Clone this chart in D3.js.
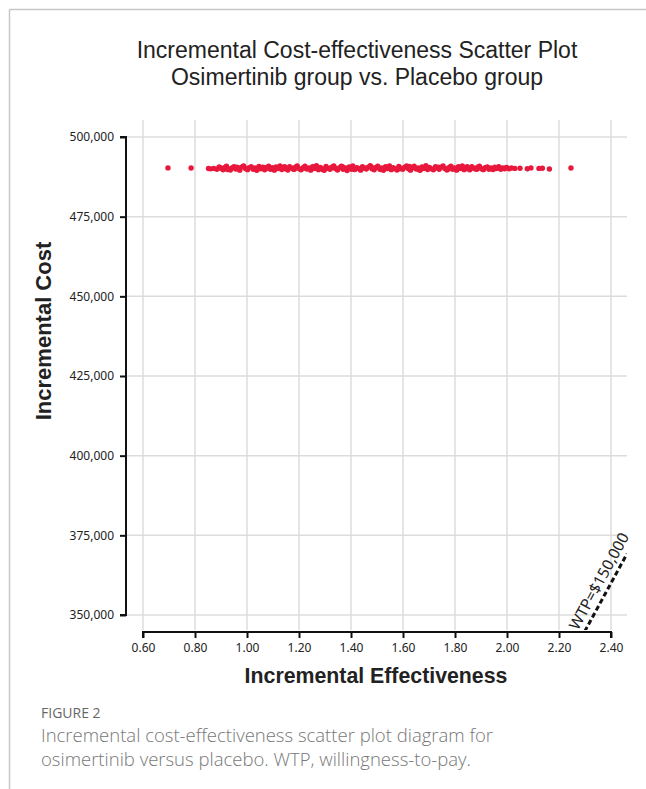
<!DOCTYPE html>
<html>
<head>
<meta charset="utf-8">
<script src="https://cdn.jsdelivr.net/npm/d3@7"></script>
<style>
  body { margin: 0; background: #fff; }
  svg { display: block; }
</style>
</head>
<body>
<svg id="chart" width="646" height="789"></svg>
<script>
// simulated (effectiveness, cost) pairs
const simEff = [0.696, 0.785, 0.852, 0.860,
  0.872, 0.884, 0.893, 0.901, 0.908, 0.915, 0.921, 0.929, 0.936, 0.944, 0.950, 0.957, 0.965, 0.972, 0.979, 0.987,
  0.994, 1.002, 1.009, 1.016, 1.024, 1.031, 1.038, 1.046, 1.053, 1.061, 1.068, 1.075, 1.083, 1.090, 1.097, 1.105,
  1.112, 1.120, 1.127, 1.134, 1.142, 1.149, 1.157, 1.164, 1.171, 1.179, 1.186, 1.193, 1.201, 1.208, 1.216, 1.223,
  1.230, 1.238, 1.245, 1.252, 1.260, 1.267, 1.275, 1.282, 1.289, 1.297, 1.304, 1.311, 1.319, 1.326, 1.334, 1.341,
  1.348, 1.356, 1.363, 1.370, 1.378, 1.385, 1.393, 1.400, 1.407, 1.415, 1.422, 1.429, 1.437, 1.444, 1.452, 1.459,
  1.466, 1.474, 1.481, 1.489, 1.496, 1.503, 1.511, 1.518, 1.525, 1.533, 1.540, 1.548, 1.555, 1.562, 1.570, 1.577,
  1.584, 1.592, 1.599, 1.607, 1.614, 1.621, 1.629, 1.636, 1.643, 1.651, 1.658, 1.666, 1.673, 1.680, 1.688, 1.695,
  1.702, 1.710, 1.717, 1.725, 1.732, 1.739, 1.747, 1.754, 1.761, 1.769, 1.776, 1.784, 1.791, 1.798, 1.806, 1.813,
  1.820, 1.828, 1.835, 1.843, 1.850, 1.857, 1.865, 1.872, 1.879, 1.887, 1.894, 1.902, 1.909, 1.916, 1.924, 1.931,
  1.938, 1.946, 1.953, 1.961, 1.968, 1.976, 1.983, 1.991, 1.999, 2.008, 2.017,
  2.030, 2.050, 2.078, 2.092, 2.123, 2.136, 2.163, 2.246,
  // second pass through the dense core
  0.897, 0.925, 0.961, 0.998, 1.035, 1.071, 1.108, 1.145, 1.182, 1.219, 1.256, 1.293, 1.330, 1.367, 1.404, 1.441,
  1.478, 1.515, 1.551, 1.588, 1.625, 1.662, 1.699, 1.736, 1.773, 1.810, 1.847, 1.884, 1.921, 1.957, 1.994];
const simCost = [490300, 490250, 490100, 490000,
  490150, 489900, 490600, 490200, 489700, 490450, 490800, 490050, 489650, 490350, 490700, 489950, 490250, 489600, 490550, 490900,
  490100, 489750, 490400, 490650, 489850, 490300, 489550, 490750, 490000, 490500, 489700, 490200, 490850, 489900, 490350, 489600,
  490600, 490100, 490950, 489800, 490450, 490000, 489650, 490700, 490250, 489850, 490550, 490900, 490050, 489700, 490400, 490800,
  489950, 490300, 489600, 490650, 490150, 491000, 489750, 490450, 490050, 489550, 490750, 490200, 489900, 490500, 490950, 490100,
  489650, 490350, 490800, 489850, 490250, 489500, 490600, 490000, 490900, 489800, 490400, 490150, 489600, 490700, 490300, 489950,
  490550, 491000, 490050, 489700, 490450, 490850, 489900, 490250, 489550, 490650, 490100, 490950, 489750, 490400, 490000, 489650,
  490750, 490200, 489850, 490500, 490900, 490050, 489600, 490350, 490800, 489950, 490300, 489550, 490600, 490150, 491000, 489800,
  490450, 490000, 489700, 490700, 490250, 489900, 490550, 490950, 490100, 489650, 490400, 490850, 489850, 490300, 489600, 490650,
  490150, 490900, 489750, 490450, 490050, 489700, 490700, 490200, 489950, 490500, 490800, 490050, 489750, 490350, 490600, 489900,
  490250, 489800, 490500, 490150, 490700, 489900, 490300, 490050, 490450, 490000, 490250,
  490150, 490200, 490050, 490300, 490150, 490200, 489950, 490250,
  490300, 489800, 490550, 490150, 489700, 490400, 490000, 490650, 489850, 490250, 490500, 489750, 490350, 490700, 489900, 490150,
  490600, 489800, 490400, 490050, 490750, 489700, 490300, 490550, 489900, 490200, 490650, 489850, 490400, 490100, 490300];

const xTicks = [0.6, 0.8, 1.0, 1.2, 1.4, 1.6, 1.8, 2.0, 2.2, 2.4];
const yTicks = [350000, 375000, 400000, 425000, 450000, 475000, 500000];
const wtp = 150000;

const titleLines = ["Incremental Cost-effectiveness Scatter Plot", "Osimertinib group vs. Placebo group"];
const captionLines = ["Incremental cost-effectiveness scatter plot diagram for", "osimertinib versus placebo. WTP, willingness-to-pay."];

const svg = d3.select("#chart");

// figure frame
svg.append("line").attr("x1", 9.5).attr("x2", 646).attr("y1", 9.5).attr("y2", 9.5)
  .attr("stroke", "#c8c8c8").attr("stroke-width", 1.5);
svg.append("line").attr("x1", 9.5).attr("x2", 9.5).attr("y1", 9.5).attr("y2", 789)
  .attr("stroke", "#c8c8c8").attr("stroke-width", 1.5);

// plot region (grid extent)
const plot = { left: 126, right: 627, top: 120, bottom: 630 };

const x = d3.scaleLinear().domain([0.6, 2.4]).range([143, 611]);
const y = d3.scaleLinear().domain([350000, 500000]).range([615, 137]);

const font = "'Liberation Sans', Arial, sans-serif";
const tickFont = "'Noto Sans', 'Open Sans', sans-serif";

// title
svg.append("g").selectAll("text").data(titleLines).join("text")
  .attr("x", 357).attr("y", (d, i) => 58 + i * 27)
  .attr("text-anchor", "middle")
  .style("font-family", font).style("font-size", "23px").attr("fill", "#222")
  .text(d => d);

// grid
const grid = svg.append("g").attr("stroke", "#dcdcdc").attr("stroke-width", 1.5);
grid.selectAll(".vg").data(xTicks).join("line").attr("class", "vg")
  .attr("x1", d => x(d)).attr("x2", d => x(d))
  .attr("y1", plot.top).attr("y2", plot.bottom);
grid.selectAll(".hg").data(yTicks).join("line").attr("class", "hg")
  .attr("x1", plot.left).attr("x2", plot.right)
  .attr("y1", d => y(d)).attr("y2", d => y(d));

// WTP line, clipped to plot region
svg.append("clipPath").attr("id", "clip").append("rect")
  .attr("x", plot.left).attr("y", plot.top)
  .attr("width", plot.right - plot.left).attr("height", plot.bottom - plot.top);

const effLo = x.invert(plot.left), effHi = x.invert(plot.right);
svg.append("line")
  .attr("clip-path", "url(#clip)")
  .attr("x1", x(effLo)).attr("y1", y(effLo * wtp))
  .attr("x2", x(effHi)).attr("y2", y(effHi * wtp))
  .attr("stroke", "#111").attr("stroke-width", 3).attr("stroke-dasharray", "5,3");

const angle = Math.atan2(y(2.3 * wtp) - y(2.4 * wtp), x(2.4) - x(2.3)) * 180 / Math.PI;
svg.append("text")
  .attr("transform", `translate(578,631) rotate(${-angle})`)
  .style("font-family", tickFont).style("font-size", "15.5px").attr("fill", "#222")
  .text("WTP=$150,000");

// points
const pts = simEff.map((e, i) => [e, simCost[i]]);
svg.append("g").selectAll("circle").data(pts).join("circle")
  .attr("cx", d => x(d[0])).attr("cy", d => y(d[1]))
  .attr("r", 2.7).attr("fill", "#e8183c");

// axes
const yAxis = svg.append("g").attr("transform", "translate(126,0)")
  .call(d3.axisLeft(y).tickValues(yTicks).tickSize(6).tickPadding(6).tickFormat(d3.format(",")));
const xAxis = svg.append("g").attr("transform", "translate(0,632)")
  .call(d3.axisBottom(x).tickValues(xTicks).tickSize(6).tickPadding(5).tickFormat(d3.format(".2f")));
[xAxis, yAxis].forEach(a => {
  a.select(".domain").attr("stroke", "#111").attr("stroke-width", 2);
  a.selectAll(".tick line").attr("stroke", "#111").attr("stroke-width", 2);
  a.selectAll(".tick text").attr("fill", "#222")
    .style("font-family", tickFont).style("font-size", "12px");
});
xAxis.select(".domain").attr("d", `M${x(0.6)},6V0H${x(2.4)}V6`);
yAxis.select(".domain").attr("d", `M-6,${y(500000)}H0V${y(350000)}H-6`);

// axis titles
svg.append("text")
  .attr("x", 376).attr("y", 683).attr("text-anchor", "middle")
  .style("font-family", font).style("font-size", "21.3px").style("font-weight", "bold").attr("fill", "#222")
  .text("Incremental Effectiveness");
svg.append("text")
  .attr("transform", "translate(51,331) rotate(-90)")
  .attr("text-anchor", "middle")
  .style("font-family", font).style("font-size", "22px").style("font-weight", "bold").attr("fill", "#222")
  .text("Incremental Cost");

// caption
svg.append("text").attr("x", 41).attr("y", 718)
  .style("font-family", "'Open Sans', sans-serif").style("font-size", "14px").attr("fill", "#666")
  .text("FIGURE 2");
svg.append("g").selectAll("text").data(captionLines).join("text")
  .attr("x", 41).attr("y", (d, i) => 742 + i * 24)
  .style("font-family", "'Open Sans', sans-serif").style("font-size", "18.5px").style("font-weight", 300)
  .attr("fill", "#777")
  .text(d => d);
</script>
</body>
</html>
